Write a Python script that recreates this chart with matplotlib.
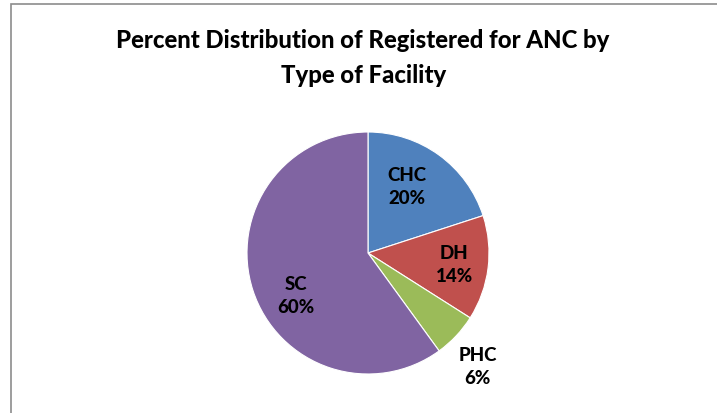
import matplotlib
matplotlib.use("Agg")
import matplotlib.pyplot as plt
from matplotlib.patches import Rectangle
import numpy as np

categories = ["CHC", "DH", "PHC", "SC"]
values = [20, 14, 6, 60]
colors = ["#4F81BD", "#C0504D", "#9BBB59", "#8064A2"]
label_dist = [0.64, 0.72, 1.30, 0.69]
label_ang_offset = [5.8, 0.0, -2.6, 12.3]

plt.rcParams['font.family'] = ['Lato', 'DejaVu Sans']

W, H = 717, 414
fig = plt.figure(figsize=(W / 100, H / 100), dpi=100)

# border
fig.patches.append(Rectangle((11 / W, -0.1), 1.2, 1 - 5 / H + 0.1, transform=fig.transFigure,
                             fill=False, edgecolor="#8c8c8c", linewidth=1.2))

cx, cy, r = 368, 254, 121
ax = fig.add_axes([(cx - r) / W, (H - cy - r) / H, 2 * r / W, 2 * r / H])
wedges, _ = ax.pie(values, colors=colors, startangle=90, counterclock=False, radius=1,
                   wedgeprops=dict(edgecolor="white", linewidth=0.8))
ax.set_xlim(-1, 1)
ax.set_ylim(-1, 1)
ax.set_aspect("equal")
ax.axis("off")

total = sum(values)
for w, cat, v, d, off in zip(wedges, categories, values, label_dist, label_ang_offset):
    ang = np.deg2rad((w.theta1 + w.theta2) / 2 + off)
    ax.text(d * np.cos(ang), d * np.sin(ang), f"{cat}\n{round(100 * v / total)}%",
            ha="center", va="center", fontsize=13.5, fontweight="black", linespacing=1.4,
            color="black", clip_on=False)

fig.text(0.5065, 1 - 58 / H, "Percent Distribution of Registered for ANC by\nType of Facility",
         ha="center", va="center", fontsize=17.2, fontweight="black", linespacing=1.6)

fig.savefig("out.png", dpi=100)
